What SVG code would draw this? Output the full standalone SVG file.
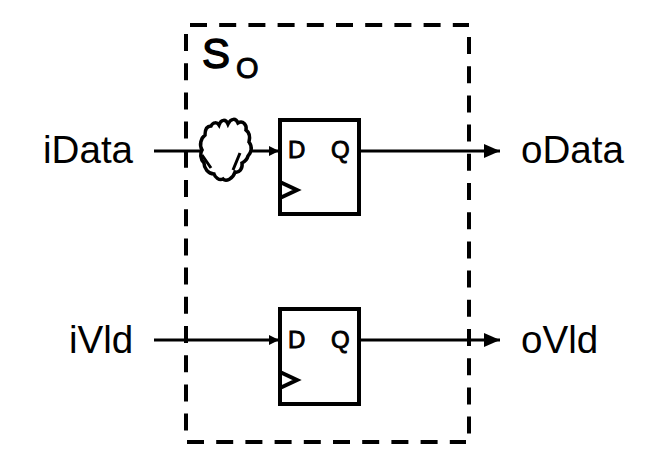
<svg xmlns="http://www.w3.org/2000/svg" width="660" height="456" viewBox="0 0 660 456">
<style>
.t{font-family:"Liberation Sans",Arial,sans-serif;fill:#000}
.l{font-size:38.6px}
.p{font-size:24px;stroke:#000;stroke-width:.9}
.b{fill:#fff;stroke:#000;stroke-width:4}
.w{fill:none;stroke:#000;stroke-width:3}
.d{fill:none;stroke:#000;stroke-width:4;stroke-dasharray:17 12.2}
.k{fill:none;stroke:#000;stroke-width:4}
</style>
<defs>
<marker id="a" markerUnits="userSpaceOnUse" markerWidth="16" markerHeight="14" refX="16" refY="7" orient="auto"><path d="M0 0L16 7L0 14Z" fill="#000"/></marker>
<marker id="s" markerUnits="userSpaceOnUse" markerWidth="10" markerHeight="10" refX="10" refY="5" orient="auto"><path d="M0 0L10 5L0 10Z" fill="#000"/></marker>
</defs>
<g id="boundary">
<path class="d" d="M190 25H469"/>
<path class="d" d="M469 37V441"/>
<path class="d" d="M187 442H466"/>
<path class="d" d="M186 34V438"/>
<text class="t" x="202" y="68" font-size="42" stroke="#000" stroke-width="1.4">S</text>
<text class="t" x="236" y="78" font-size="29" stroke="#000" stroke-width=".9">O</text>
</g>
<g id="connectors">
<path class="w" d="M154 151H202"/>
<path class="w" d="M248 151H279" marker-end="url(#s)"/>
<path class="w" d="M361 151H500" marker-end="url(#a)"/>
<path class="w" d="M154 340H279" marker-end="url(#s)"/>
<path class="w" d="M361 340H500" marker-end="url(#a)"/>
</g>
<g id="iData"><text class="t l" x="43" y="163">iData</text></g>
<g id="iVld"><text class="t l" x="69" y="353">iVld</text></g>
<g id="oData"><text class="t l" x="521" y="163">oData</text></g>
<g id="oVld"><text class="t l" x="521" y="353">oVld</text></g>
<g id="cloud">
<path d="M205 135C205 129 207 126 211 126C213 122 217 122 219 125C221 119 226 119 228 124C231 118 236 118 238 123C243 120 247 125 246 130C250 133 250 138 249 142C253 147 251 153 248 156C247 160 244 162 242 163C243 169 239 173 235 172C233 179 226 182 223 179C219 181 215 177 214 174C208 174 204 168 204 163C200 159 200 153 202 150C199 145 201 138 205 135Z" fill="#fff" stroke="#000" stroke-width="3.5"/>
<path class="w" d="M202 155L211 168M240 153L233 170"/>
</g>
<g id="ff1">
<rect class="b" x="280" y="120" width="79" height="94"/>
<text class="t p" x="288" y="158">D</text>
<text class="t p" x="331" y="158">Q</text>
<path class="k" d="M280 182L297 190L280 198"/>
</g>
<g id="ff2">
<rect class="b" x="280" y="309" width="79" height="95"/>
<text class="t p" x="288" y="348">D</text>
<text class="t p" x="331" y="348">Q</text>
<path class="k" d="M280 372L297 380L280 388"/>
</g>
</svg>
